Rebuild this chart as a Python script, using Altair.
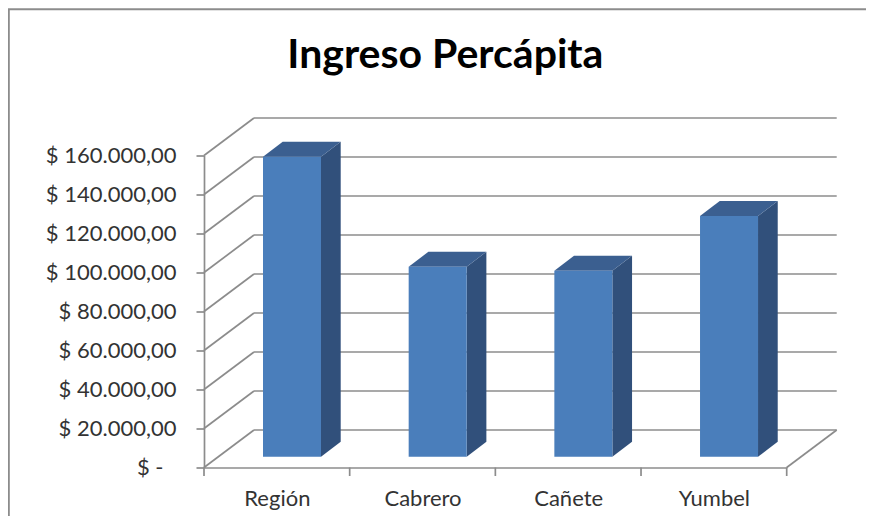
import json
import altair as alt
import pandas as pd

categories = ["Región", "Cabrero", "Cañete", "Yumbel"]
values = [153800, 97400, 95400, 123400]
tick_values = [0, 20000, 40000, 60000, 80000, 100000, 120000, 140000, 160000]
x_ticks = [0, 1, 2, 3, 4]

FONT = "Lato"
GREY = "#8c8c8c"
W, H = 582.7, 312
PAD = dict(left=196, top=147.5, right=79.3, bottom=48.5)
PX_X = 4 / W
PX_Y = 160000 / H
WALL_DX = 50 * PX_X
WALL_DY = 37.5 * PX_Y
BAR_L = 59 * PX_X
BAR_W = 58 * PX_X
BAR_BASE = 10.8 * PX_Y
DEPTH_X = 19.7 * PX_X
DEPTH_Y = 15 * PX_Y

sx = alt.Scale(domain=[0, 4], nice=False, zero=False)
sy = alt.Scale(domain=[0, 160000], nice=False, zero=False)

lab_y = "datum.value == 0 ? '$ -' : '$ ' + format(datum.value / 1000, '.0f') + '.000,00'"
lab_x = json.dumps(categories) + "[floor(datum.value)]"
axis_x = alt.Axis(
    values=[i + 0.5 for i in range(len(categories))], labelExpr=lab_x, ticks=False,
    domainColor=GREY, domainWidth=1.7, grid=False, labelFont=FONT, labelFontSize=22,
    labelColor="#333333", labelPadding=21, labelAngle=0, title=None)
axis_y = alt.Axis(
    values=tick_values, labelExpr=lab_y, tickSize=8, tickColor=GREY, tickWidth=1.7,
    domainColor=GREY, domainWidth=1.7, grid=False, labelFont=FONT, labelFontSize=22,
    labelColor="#333333",
    labelPadding={"condition": {"test": "datum.value == 0", "value": 33}, "value": 20},
    title=None)

X = lambda f="x": alt.X(f"{f}:Q", scale=sx, axis=axis_x)
Y = lambda f="y": alt.Y(f"{f}:Q", scale=sy, axis=axis_y)

# walls
back = pd.DataFrame({"x": WALL_DX, "x2": 4 + WALL_DX,
                     "y": [v + WALL_DY for v in tick_values]})
side = pd.DataFrame({"x": 0.0, "x2": WALL_DX, "y": tick_values,
                     "y2": [v + WALL_DY for v in tick_values]})
floor_r = pd.DataFrame({"x": [4.0], "x2": [4 + WALL_DX], "y": [0.0], "y2": [WALL_DY]})
ticks = pd.DataFrame({"x": x_ticks, "y": 0, "y2": -8.5 * PX_Y})

rule = dict(color=GREY, strokeWidth=1.7)
back_l = alt.Chart(back).mark_rule(**rule).encode(x=X(), x2="x2:Q", y=Y())
side_l = alt.Chart(pd.concat([side, floor_r])).mark_rule(**rule).encode(
    x=X(), x2="x2:Q", y=Y(), y2="y2:Q")
tick_l = alt.Chart(ticks).mark_rule(**rule).encode(x=X(), y=Y(), y2="y2:Q")

# bars
rows = []
for i, (c, v) in enumerate(zip(categories, values)):
    rows.append({"c": c, "l": i + BAR_L, "r": i + BAR_L + BAR_W, "b": BAR_BASE, "t": BAR_BASE + v})
bars = pd.DataFrame(rows)

side_rows, top_rows = [], []
for _, r in bars.iterrows():
    side_rows += [{"c": r.c, "x": r.r, "y": r.t, "y2": r.b},
                  {"c": r.c, "x": r.r + DEPTH_X, "y": r.t + DEPTH_Y, "y2": r.b + DEPTH_Y}]
    top_rows += [{"c": r.c, "y": r.t, "x": r.l, "x2": r.r},
                 {"c": r.c, "y": r.t + DEPTH_Y, "x": r.l + DEPTH_X, "x2": r.r + DEPTH_X}]

front_l = alt.Chart(bars).mark_rect(color="#4a7ebb").encode(
    x=X("l"), x2="r:Q", y=Y("b"), y2="t:Q")
sidef_l = alt.Chart(pd.DataFrame(side_rows)).mark_area(color="#31507b", orient="vertical").encode(
    x=X(), y=Y(), y2="y2:Q", detail="c:N")
topf_l = alt.Chart(pd.DataFrame(top_rows)).mark_area(color="#3b5f90", orient="horizontal").encode(
    y=Y(), x=X(), x2="x2:Q", detail="c:N")

# chart frame
frame_t = alt.Chart(pd.DataFrame({"a": [0]})).mark_rule(color=GREY, strokeWidth=2).encode(
    x=alt.value(-PAD["left"]), x2=alt.value(W + PAD["right"]), y=alt.value(1.2 - PAD["top"]))
frame_l = alt.Chart(pd.DataFrame({"a": [0]})).mark_rule(color=GREY, strokeWidth=2).encode(
    x=alt.value(0.8 - PAD["left"]), y=alt.value(1 - PAD["top"]), y2=alt.value(H + PAD["bottom"]))

chart = alt.layer(frame_t, frame_l, back_l, side_l, tick_l, sidef_l, topf_l, front_l).properties(
    width=W, height=H, padding=PAD,
    autosize=alt.AutoSizeParams(type="none"),
    background="white",
    title=alt.TitleParams("Ingreso Percápita", font=FONT, fontSize=41, fontWeight="bold",
                          color="#000000", anchor="middle", frame="group", dx=-50, offset=-69),
).configure_view(stroke=None)

chart.save("out.html", embed_options={"renderer": "svg", "actions": False})
